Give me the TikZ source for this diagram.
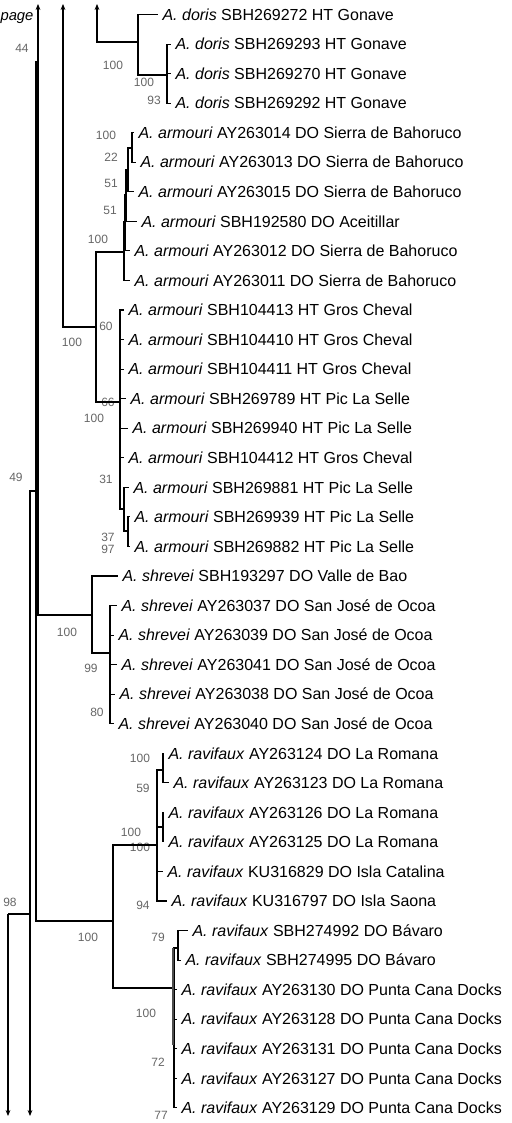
\documentclass[tikz,border=0pt]{standalone}
\usepackage{fontspec}
\setmainfont{Liberation Sans}
\usetikzlibrary{arrows.meta}

\begin{document}
\begin{tikzpicture}[x=0.5pt, y=-0.5pt, >={Stealth[length=3pt,width=2.4pt]}, line width=0.55pt]
  \tikzstyle{leaf}=[anchor=west, inner xsep=2pt, inner ysep=0pt,
    text height=5.7pt, text depth=0pt, font=\fontsize{8}{9}\selectfont]
  \tikzstyle{bs}=[text=black!60, inner sep=0pt, font=\fontsize{6}{7}\selectfont]
  \tikzstyle{zero}=[line width=1.3pt]

  \useasboundingbox (0,0) rectangle (511,1123);

  % Left: branches running on from the pages before and after
  \node[leaf, anchor=east, inner xsep=0pt, font=\fontsize{7.4}{8}\selectfont] (pg) at (34, 14.5) {\textit{page}};
  \coordinate (top38) at (38, 4);
  \coordinate (top63) at (63, 4);
  \coordinate (top97) at (97, 4);
  \coordinate (bot8)  at (8, 1116);
  \coordinate (bot30) at (30, 1116);

  \coordinate (p98) at (8, 914);
  \coordinate (n98) at (30, 914);
  \coordinate (n49) at (36, 491);
  \coordinate (n44) at (38, 62);

  \node[bs] (s44) at (22, 48) {44};
  \node[bs] (s49) at (16, 477) {49};
  \node[bs] (s98) at (10, 902) {98};

  % A. doris
  \coordinate (nD)  at (138, 42);
  \coordinate (nD2) at (167, 75);
  \coordinate (nD3) at (167, 90);
  \node[leaf] (dor1) at (158, 14.5)  {\textit{A. doris} SBH269272 HT Gonave};
  \node[leaf] (dor2) at (171, 44.1)  {\textit{A. doris} SBH269293 HT Gonave};
  \node[leaf] (dor3) at (171, 73.6)  {\textit{A. doris} SBH269270 HT Gonave};
  \node[leaf] (dor4) at (171, 103.2) {\textit{A. doris} SBH269292 HT Gonave};
  \node[bs] (sD)  at (113, 65)  {100};
  \node[bs] (sD2) at (144, 82)  {100};
  \node[bs] (sD3) at (154, 100) {93};

  % A. armouri, Bahoruco
  \coordinate (nA)  at (96, 327);
  \coordinate (nA1) at (132, 148);
  \coordinate (nA2) at (128, 170);
  \coordinate (nA3) at (126, 195);
  \coordinate (nA4) at (125, 222);
  \coordinate (nA5) at (124, 252);
  \node[leaf] (arm1) at (134, 132.7) {\textit{A. armouri} AY263014 DO Sierra de Bahoruco};
  \node[leaf] (arm2) at (136, 162.3) {\textit{A. armouri} AY263013 DO Sierra de Bahoruco};
  \node[leaf] (arm3) at (134, 191.8) {\textit{A. armouri} AY263015 DO Sierra de Bahoruco};
  \node[leaf] (arm4) at (137, 221.4) {\textit{A. armouri} SBH192580 DO Aceitillar};
  \node[leaf] (arm5) at (130, 250.9) {\textit{A. armouri} AY263012 DO Sierra de Bahoruco};
  \node[leaf] (arm6) at (130, 280.5) {\textit{A. armouri} AY263011 DO Sierra de Bahoruco};
  \node[bs] (sA1) at (106, 135) {100};
  \node[bs] (sA2) at (111, 157) {22};
  \node[bs] (sA3) at (111, 183) {51};
  \node[bs] (sA4) at (110, 210) {51};
  \node[bs] (sA5) at (98, 239)  {100};

  % A. armouri, Haiti
  \coordinate (nB)  at (120, 402);
  \coordinate (nB2) at (124, 509);
  \coordinate (nB5) at (128, 531);
  \coordinate (zB1) at (120, 342);
  \coordinate (zB2) at (120, 377);
  \coordinate (zB3) at (120, 398);
  \coordinate (zB4) at (120, 463);
  \node[leaf] (arm7)  at (124, 310.0) {\textit{A. armouri} SBH104413 HT Gros Cheval};
  \node[leaf] (arm8)  at (124, 339.6) {\textit{A. armouri} SBH104410 HT Gros Cheval};
  \node[leaf] (arm9)  at (124, 369.1) {\textit{A. armouri} SBH104411 HT Gros Cheval};
  \node[leaf] (arm10) at (126, 398.7) {\textit{A. armouri} SBH269789 HT Pic La Selle};
  \node[leaf] (arm11) at (128, 428.2) {\textit{A. armouri} SBH269940 HT Pic La Selle};
  \node[leaf] (arm12) at (124, 457.8) {\textit{A. armouri} SBH104412 HT Gros Cheval};
  \node[leaf] (arm13) at (129, 487.3) {\textit{A. armouri} SBH269881 HT Pic La Selle};
  \node[leaf] (arm14) at (130, 516.9) {\textit{A. armouri} SBH269939 HT Pic La Selle};
  \node[leaf] (arm15) at (130, 546.4) {\textit{A. armouri} SBH269882 HT Pic La Selle};
  \node[bs] (sA)  at (72, 342)  {100};
  \node[bs] (sB1) at (106, 326) {60};
  \node[bs] (sB2) at (108, 402) {66};
  \node[bs] (sB)  at (94, 418)  {100};
  \node[bs] (sB3) at (106, 479) {31};
  \node[bs] (sB4) at (108, 537) {37};
  \node[bs] (sB5) at (108, 549) {97};

  % A. shrevei
  \coordinate (nS)  at (92, 615);
  \coordinate (nS2) at (110, 653);
  \coordinate (zS1) at (110, 667);
  \coordinate (zS2) at (110, 697);
  \node[leaf] (shr1) at (118, 576.0) {\textit{A. shrevei} SBH193297 DO Valle de Bao};
  \node[leaf] (shr2) at (117, 605.5) {\textit{A. shrevei} AY263037 DO San José de Ocoa};
  \node[leaf] (shr3) at (114, 635.1) {\textit{A. shrevei} AY263039 DO San José de Ocoa};
  \node[leaf] (shr4) at (117, 664.6) {\textit{A. shrevei} AY263041 DO San José de Ocoa};
  \node[leaf] (shr5) at (115, 694.2) {\textit{A. shrevei} AY263038 DO San José de Ocoa};
  \node[leaf] (shr6) at (114, 723.7) {\textit{A. shrevei} AY263040 DO San José de Ocoa};
  \node[bs] (sS)  at (67, 632) {100};
  \node[bs] (sS2) at (91, 668) {99};
  \node[bs] (sS3) at (97, 712) {80};

  % A. ravifaux
  \coordinate (nR)  at (113, 921);
  \coordinate (nR1) at (157, 845);
  \coordinate (nR2) at (163, 770);
  \coordinate (nR3) at (163, 827);
  \coordinate (nR5) at (174, 988);
  \coordinate (nR6) at (178, 948);
  \coordinate (zR1) at (157, 868);
  \coordinate (zR2) at (157, 890);
  \coordinate (zR3) at (173, 948);
  \coordinate (zR4) at (173, 1045);
  \coordinate (zR5) at (174, 1060);
  \coordinate (zR6) at (174, 1098);
  \node[leaf] (rav1)  at (164, 753.3)  {\textit{A. ravifaux} AY263124 DO La Romana};
  \node[leaf] (rav2)  at (169, 782.8)  {\textit{A. ravifaux} AY263123 DO La Romana};
  \node[leaf] (rav3)  at (164, 812.4)  {\textit{A. ravifaux} AY263126 DO La Romana};
  \node[leaf] (rav4)  at (164, 841.9)  {\textit{A. ravifaux} AY263125 DO La Romana};
  \node[leaf] (rav5)  at (163, 871.5)  {\textit{A. ravifaux} KU316829 DO Isla Catalina};
  \node[leaf] (rav6)  at (167, 901.0)  {\textit{A. ravifaux} KU316797 DO Isla Saona};
  \node[leaf] (rav7)  at (188, 930.6)  {\textit{A. ravifaux} SBH274992 DO Bávaro};
  \node[leaf] (rav8)  at (181, 960.1)  {\textit{A. ravifaux} SBH274995 DO Bávaro};
  \node[leaf] (rav9)  at (177, 989.7)  {\textit{A. ravifaux} AY263130 DO Punta Cana Docks};
  \node[leaf] (rav10) at (177, 1019.2) {\textit{A. ravifaux} AY263128 DO Punta Cana Docks};
  \node[leaf] (rav11) at (177, 1048.8) {\textit{A. ravifaux} AY263131 DO Punta Cana Docks};
  \node[leaf] (rav12) at (177, 1078.3) {\textit{A. ravifaux} AY263127 DO Punta Cana Docks};
  \node[leaf] (rav13) at (177, 1107.9) {\textit{A. ravifaux} AY263129 DO Punta Cana Docks};
  \node[bs] (sR2) at (140, 758)  {100};
  \node[bs] (sR3) at (143, 788)  {59};
  \node[bs] (sR4) at (131, 832)  {100};
  \node[bs] (sR1) at (140, 847)  {100};
  \node[bs] (sR7) at (143, 905)  {94};
  \node[bs] (sR)  at (88, 937)   {100};
  \node[bs] (sR6) at (158, 937)  {79};
  \node[bs] (sR5) at (146, 1013) {100};
  \node[bs] (sR8) at (158, 1062) {72};
  \node[bs] (sR9) at (161, 1115) {77};

  % backbone
  \draw[->] (p98) -- (bot8);
  \draw (p98) -- (n98);
  \draw[->] (n98) -- (bot30);
  \draw (n98) |- (n49);
  \draw (n49) |- (n44);
  \draw (n49) |- (nR);
  \draw[->] (n44) -- (top38);
  \draw (n44) |- (nS);
  \draw[<-] (top63) |- (nA);
  \draw[<-] (top97) |- (nD);

  \draw (nD) |- (dor1.west);
  \draw (nD) |- (nD2);
  \draw (nD2) |- (dor2.west);
  \draw (nD2) |- (dor3.west);
  \draw (nD2) |- (dor4.west);
  \draw[zero] (nD2) -- (nD3);

  \draw (nA) |- (nA5);
  \draw (nA) |- (nB);
  \draw (nA5) |- (nA4);
  \draw (nA5) |- (arm6.west);
  \draw (nA4) |- (nA3);
  \draw (nA4) |- (arm5.west);
  \draw (nA3) |- (nA2);
  \draw (nA3) |- (arm4.west);
  \draw (nA2) |- (nA1);
  \draw (nA2) |- (arm3.west);
  \draw (nA1) |- (arm1.west);
  \draw (nA1) |- (arm2.west);

  \draw (nB) |- (arm7.west);
  \draw (nB) |- (arm8.west);
  \draw (nB) |- (arm9.west);
  \draw (nB) |- (arm10.west);
  \draw (nB) |- (arm11.west);
  \draw (nB) |- (arm12.west);
  \draw (nB) |- (nB2);
  \draw (nB2) |- (arm13.west);
  \draw (nB2) |- (nB5);
  \draw (nB5) |- (arm14.west);
  \draw (nB5) |- (arm15.west);
  \draw[zero] (zB1) -- (zB2);
  \draw[zero] (zB3) -- (zB4);

  \draw (nS) |- (shr1.west);
  \draw (nS) |- (nS2);
  \draw (nS2) |- (shr2.west);
  \draw (nS2) |- (shr3.west);
  \draw (nS2) |- (shr4.west);
  \draw (nS2) |- (shr5.west);
  \draw (nS2) |- (shr6.west);
  \draw[zero] (zS1) -- (zS2);

  \draw (nR) |- (nR1);
  \draw (nR) |- (nR5);
  \draw (nR1) |- (nR2);
  \draw (nR1) |- (nR3);
  \draw (nR1) |- (rav5.west);
  \draw (nR1) |- (rav6.west);
  \draw (nR2) |- (rav1.west);
  \draw (nR2) |- (rav2.west);
  \draw (nR3) |- (rav3.west);
  \draw (nR3) |- (rav4.west);
  \draw[zero] (zR1) -- (zR2);
  \draw (nR5) |- (nR6);
  \draw (nR6) |- (rav7.west);
  \draw (nR6) |- (rav8.west);
  \draw (nR5) |- (rav9.west);
  \draw (nR5) |- (rav10.west);
  \draw (nR5) |- (rav11.west);
  \draw (nR5) |- (rav12.west);
  \draw (nR5) |- (rav13.west);
  \draw[zero, black!70] (zR3) -- (zR4);
  \draw[zero] (zR5) -- (zR6);
\end{tikzpicture}
\end{document}
